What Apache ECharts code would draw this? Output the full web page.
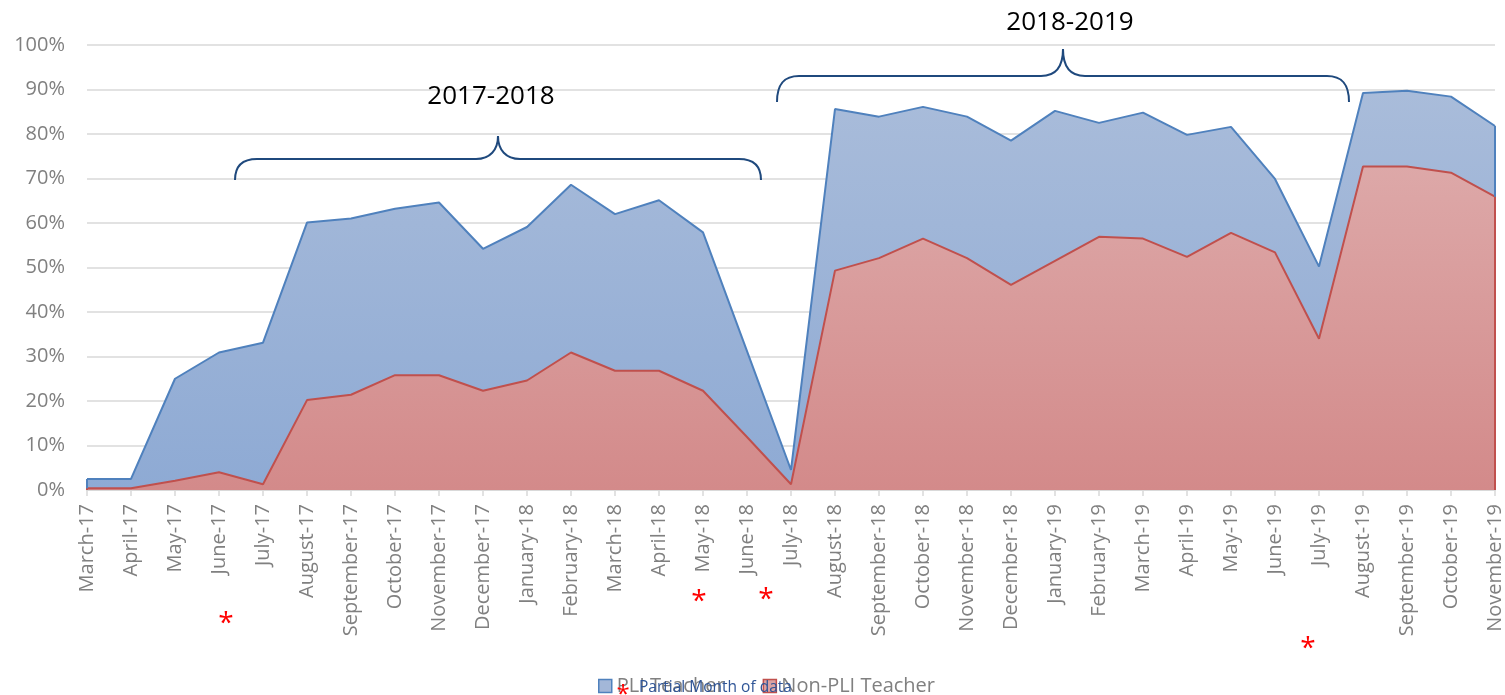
<!DOCTYPE html>
<html>
<head>
<meta charset="utf-8">
<script src="https://cdn.jsdelivr.net/npm/echarts@6/dist/echarts.min.js"></script>
<style>
  html, body { margin: 0; padding: 0; background: #fff; }
  #chart { width: 1505px; height: 695px; }
</style>
</head>
<body>
<div id="chart"></div>
<script>
// categories (months)
var months = ['March-17', 'April-17', 'May-17', 'June-17', 'July-17', 'August-17', 'September-17',
  'October-17', 'November-17', 'December-17', 'January-18', 'February-18', 'March-18', 'April-18',
  'May-18', 'June-18', 'July-18', 'August-18', 'September-18', 'October-18', 'November-18',
  'December-18', 'January-19', 'February-19', 'March-19', 'April-19', 'May-19', 'June-19',
  'July-19', 'August-19', 'September-19', 'October-19', 'November-19'];

// percent values
var pliTeacher = [2.5, 2.5, 25.0, 30.9, 33.1, 60.1, 61.0, 63.2, 64.6, 54.2, 59.1, 68.6, 62.0, 65.1,
  57.9, 31.2, 4.5, 85.6, 83.9, 86.1, 83.9, 78.5, 85.2, 82.5, 84.8, 79.8, 81.6, 69.9, 50.2, 89.2,
  89.7, 88.4, 81.8];
var nonPliTeacher = [0.4, 0.4, 2.1, 4.0, 1.3, 20.2, 21.4, 25.8, 25.8, 22.3, 24.6, 30.9, 26.8, 26.8,
  22.3, 11.9, 1.3, 49.3, 52.1, 56.5, 52.1, 46.1, 51.5, 56.9, 56.5, 52.4, 57.8, 53.4, 34.0, 72.7,
  72.7, 71.3, 65.9];

var seriesNames = ['PLI Teacher', 'Non-PLI Teacher'];
var yearLabels = ['2017-2018', '2018-2019'];
var partialMonths = ['June-17', 'May-18', 'June-18', 'July-19'];

var FONT = '"Open Sans", "Noto Sans", sans-serif';
var GRAY = '#808080';

var chart = echarts.init(document.getElementById('chart'));

function grad(top, bottom) {
  return new echarts.graphic.LinearGradient(0, 0, 0, 1, [
    { offset: 0, color: top }, { offset: 1, color: bottom }
  ]);
}

// vertical closing edges of an area at the first and last month
function edges(values, color) {
  var last = months.length - 1;
  return {
    silent: true, symbol: 'none', label: { show: false },
    lineStyle: { color: color, width: 2, type: 'solid' },
    data: [
      [{ coord: [months[0], 0] }, { coord: [months[0], values[0]] }],
      [{ coord: [months[last], 0] }, { coord: [months[last], values[last]] }]
    ]
  };
}

chart.setOption({
  animation: false,
  textStyle: { fontFamily: FONT },
  grid: { left: 87, right: 4, top: 45, bottom: 205 },
  xAxis: {
    type: 'category',
    data: months,
    boundaryGap: false,
    axisLine: { lineStyle: { color: '#d9d9d9', width: 2 } },
    axisTick: { show: true, length: 6, lineStyle: { color: '#d9d9d9', width: 1.5 } },
    axisLabel: { rotate: 90, interval: 0, margin: 14, color: GRAY, fontSize: 20, fontFamily: FONT }
  },
  yAxis: {
    type: 'value',
    min: 0, max: 100, interval: 10,
    axisLine: { show: false },
    axisTick: { show: false },
    axisLabel: { formatter: '{value}%', color: GRAY, fontSize: 20, margin: 22, fontFamily: FONT },
    splitLine: { lineStyle: { color: '#d9d9d9', width: 1.5 } }
  },
  legend: {
    left: 593, top: 671,
    itemWidth: 13, itemHeight: 13, itemGap: 38,
    textStyle: { color: GRAY, fontSize: 20, fontFamily: FONT },
    data: [
      { name: seriesNames[0], icon: 'rect', itemStyle: { color: '#a3b7d8', borderColor: '#4f81bd', borderWidth: 1.5 } },
      { name: seriesNames[1], icon: 'rect', itemStyle: { color: '#dba3a3', borderColor: '#c0504d', borderWidth: 1.5 } }
    ]
  },
  series: [
    {
      name: seriesNames[0], type: 'line', data: pliTeacher,
      symbol: 'none',
      lineStyle: { color: '#4f81bd', width: 2 },
      itemStyle: { color: '#4f81bd' },
      areaStyle: { color: grad('#a9bcda', '#8eaad4'), opacity: 1 },
      markLine: edges(pliTeacher, '#4f81bd')
    },
    {
      name: seriesNames[1], type: 'line', data: nonPliTeacher,
      symbol: 'none',
      lineStyle: { color: '#c0504d', width: 2 },
      itemStyle: { color: '#c0504d' },
      areaStyle: { color: grad('#dda8a8', '#d38a8a'), opacity: 1 },
      markLine: edges(nonPliTeacher, '#c0504d')
    }
  ]
});

// curly brace made of curves and straight runs
function brace(x0, xTip, x1, yEnd, yFlat, yTip) {
  var st = { stroke: '#1f497d', lineWidth: 2, fill: null };
  var r = 22, rt = 22;
  function bz(a, b, c, d) {
    return { type: 'bezierCurve', shape: { x1: a[0], y1: a[1], cpx1: b[0], cpy1: b[1], cpx2: c[0], cpy2: c[1], x2: d[0], y2: d[1] }, style: st };
  }
  function ln(a, b) {
    return { type: 'line', shape: { x1: a[0], y1: a[1], x2: b[0], y2: b[1] }, style: st };
  }
  return [
    bz([x0, yEnd], [x0, yFlat + 7], [x0 + 8, yFlat], [x0 + r, yFlat]),
    ln([x0 + r, yFlat], [xTip - rt, yFlat]),
    bz([xTip - rt, yFlat], [xTip - 8, yFlat], [xTip, yFlat - 9], [xTip, yTip]),
    bz([xTip, yTip], [xTip, yFlat - 9], [xTip + 8, yFlat], [xTip + rt, yFlat]),
    ln([xTip + rt, yFlat], [x1 - r, yFlat]),
    bz([x1 - r, yFlat], [x1 - 8, yFlat], [x1, yFlat + 7], [x1, yEnd])
  ];
}

// annotations: year braces, labels, partial-month asterisks
var graphics = [].concat(
  brace(235, 498, 761, 180, 159, 136),
  brace(777, 1063, 1349, 102, 76, 49),
  [
    { type: 'text', x: 491, y: 97, style: { text: yearLabels[0], fill: '#000', fontSize: 26, fontFamily: FONT, align: 'center', verticalAlign: 'middle' } },
    { type: 'text', x: 1070, y: 23, style: { text: yearLabels[1], fill: '#000', fontSize: 26, fontFamily: FONT, align: 'center', verticalAlign: 'middle' } },
    // legend footnote overlapping the legend
    { type: 'text', x: 623, y: 695, z: 100, style: { text: '*', fill: '#ff0000', fontSize: 24, fontFamily: FONT, align: 'center', verticalAlign: 'middle' } },
    { type: 'text', x: 639, y: 688, z: 100, style: { text: 'Partial Month of data', fill: '#2f5597', fontSize: 15.5, fontFamily: FONT, align: 'left', verticalAlign: 'middle' } }
  ]
);

// asterisk placement relative to each partial month tick
var starNudge = [[7, 617], [-4, 595], [19, 593], [-11, 642]];
partialMonths.forEach(function (m, i) {
  var px = chart.convertToPixel({ xAxisIndex: 0 }, m);
  graphics.push({
    type: 'text', x: px + starNudge[i][0], y: starNudge[i][1] + 7,
    style: { text: '*', fill: '#ff0000', fontSize: 28, fontFamily: FONT, align: 'center', verticalAlign: 'middle' }
  });
});

chart.setOption({ graphic: graphics });
</script>
</body>
</html>
